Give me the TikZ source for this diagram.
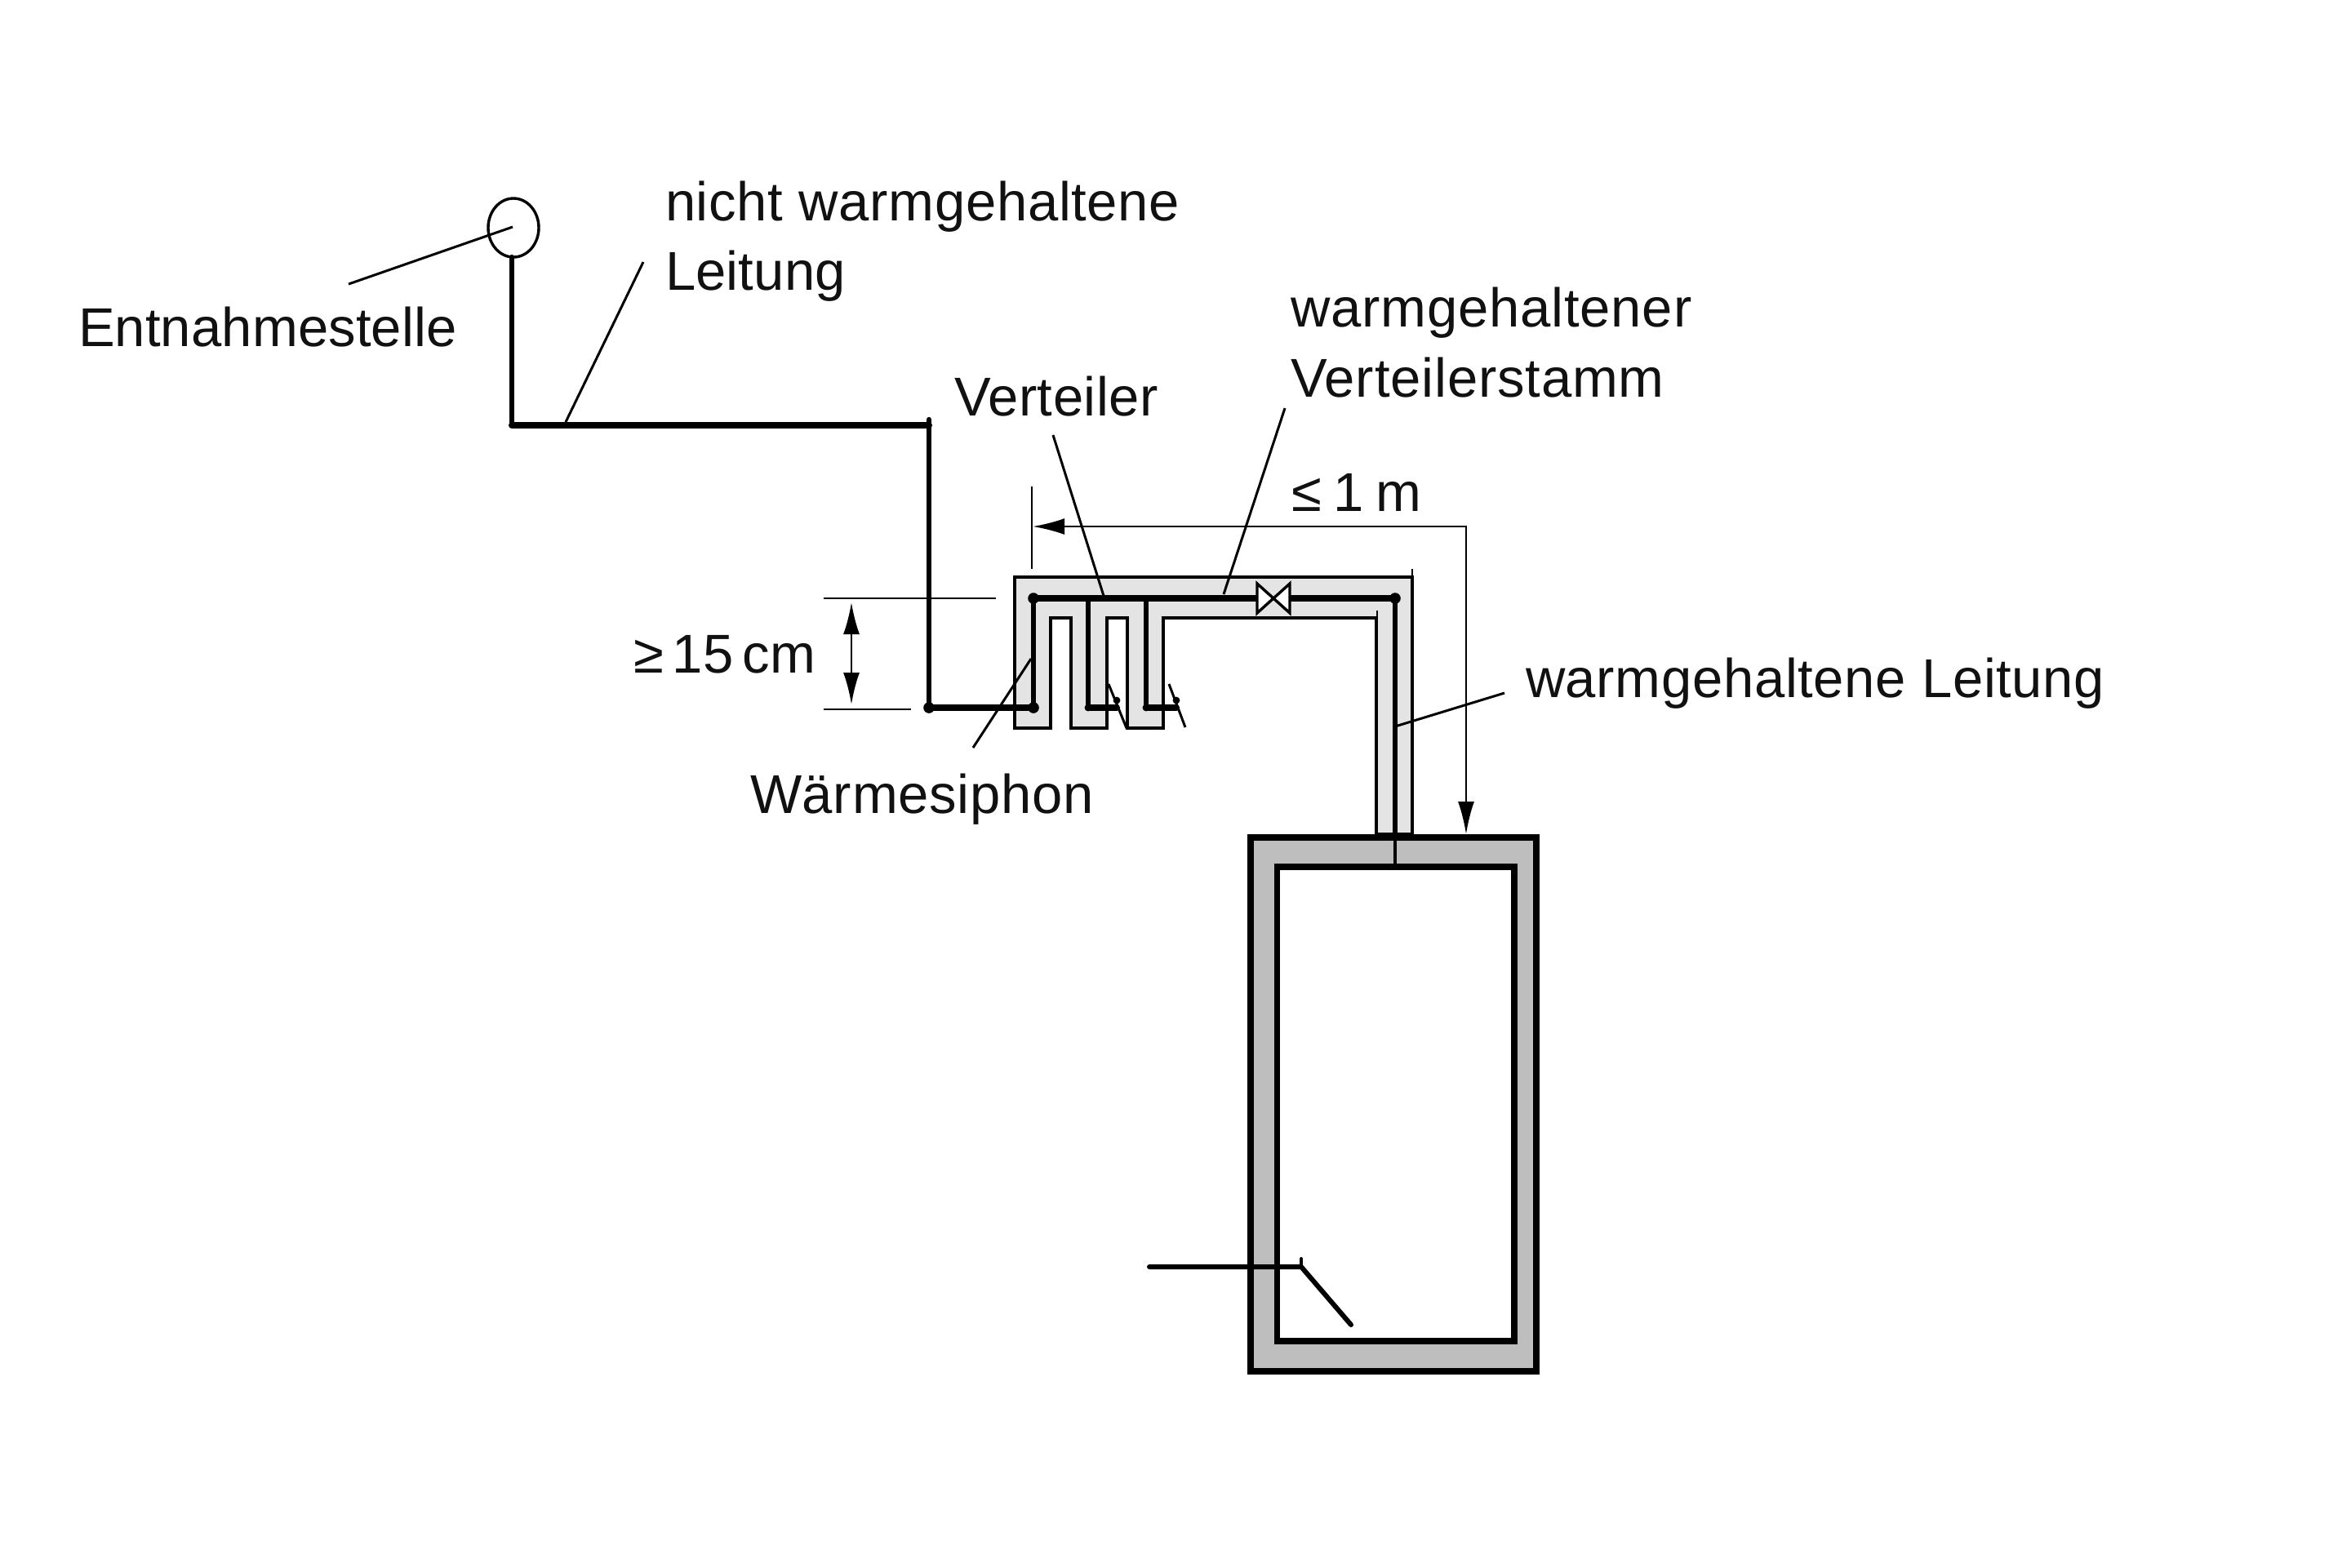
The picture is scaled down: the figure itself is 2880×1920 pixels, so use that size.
\documentclass[tikz,border=0pt]{standalone}
\usepackage{fontspec}
\setmainfont{Liberation Sans}
\usetikzlibrary{arrows.meta}
\definecolor{insul}{HTML}{E4E4E4}
\definecolor{tankgray}{HTML}{BEBEBE}
\definecolor{ink}{HTML}{111111}
\newcommand{\tracked}[2]{{\addfontfeature{LetterSpace=#1}#2}}
\tikzset{
  label text/.style={anchor=base west,inner sep=0pt,outer sep=0pt,font=\fontsize{16.75pt}{20pt}\selectfont,text=ink},
  pipeH/.style={line width=2pt,line cap=round},
  pipeV/.style={line width=1.6pt,line cap=round},
  leader/.style={line width=0.75pt},
  dimline/.style={line width=0.65pt},
  insulation/.style={fill=insul,draw=black,line width=0.85pt,line join=miter},
  tankwall/.style={line width=1.9pt,line join=miter},
  joint/.style={circle,fill=black,inner sep=0pt,minimum size=3.4pt},
  smalljoint/.style={circle,fill=black,inner sep=0pt,minimum size=2.2pt},
  dimtips/.style={{Latex[length=9.75pt,width=5pt]}-{Latex[length=10pt,width=5pt]}},
  smalltips/.style={{Latex[length=9.75pt,width=5pt]}-{Latex[length=9.75pt,width=5pt]}}
}
\begin{document}
\begin{tikzpicture}[x=0.25pt,y=-0.25pt]
\useasboundingbox (0,0) rectangle (2880,1920);
% coordinates
\coordinate (cornerA) at (627,521);
\coordinate (cornerB) at (1138,521);
\coordinate (cornerC) at (1138,867);
\coordinate (sipA) at (1266,867);
\coordinate (headL) at (1266,733);
\coordinate (headR) at (1709,733);
\coordinate (valveL) at (1540,733);
\coordinate (valveR) at (1580,733);
\coordinate (sipB) at (1333,867);
\coordinate (sipC) at (1404,867);
\coordinate (stubB) at (1368,867);
\coordinate (stubC) at (1441,867);
\coordinate (headB) at (1333,733);
\coordinate (headC) at (1404,733);
\coordinate (tankIn) at (1709,1062);
% tank
\draw[tankwall,fill=tankgray] (1532,1026) rectangle (1882,1680);
\draw[tankwall,fill=white] (1564.5,1062) rectangle (1855,1643);
% insulation
\draw[insulation] (1243,892) -- (1243,707) -- (1730,707) -- (1730,1022) -- (1686,1022) -- (1686,757) -- (1425,757) -- (1425,892) -- (1381,892) -- (1381,757) -- (1356,757) -- (1356,892) -- (1312,892) -- (1312,757) -- (1287,757) -- (1287,892) -- cycle;
\draw[line width=0.4pt] (1730,707) -- (1730,697);
\draw[line width=0.4pt] (1687,757) -- (1687,748);
% cold pipe
\draw[pipeV] (cornerA) -- (627,315);
\draw[pipeH] (cornerA) -- (cornerB);
\draw[pipeV] (1138,514) -- (cornerC);
\draw[pipeH] (cornerC) -- (sipA);
% entnahmestelle
\draw[line width=0.85pt] (629,279) circle [x radius=31,y radius=36];
\coordinate (tap) at (628,278);
\coordinate (tapEnd) at (427,348);
\draw[leader] (tap) -- (tapEnd);
% header and risers
\draw[pipeV] (headL) -- (sipA);
\draw[pipeV] (headB) -- (sipB);
\draw[pipeV] (headC) -- (sipC);
\draw[pipeV] (headR) -- (1709,1026);
\draw[line width=1.1pt] (1709,1026) -- (tankIn);
\draw[pipeH] (headL) -- (valveL);
\draw[pipeH] (valveR) -- (headR);
\draw[pipeH] (sipB) -- (stubB);
\draw[pipeH] (sipC) -- (stubC);
\node[joint] (j1) at (headL) {};
\node[joint] (j2) at (headR) {};
\node[joint] (j3) at (cornerC) {};
\node[joint] (j4) at (sipA) {};
\node[smalljoint] (j5) at (sipB) {};
\node[smalljoint] (j6) at (sipC) {};
\node[smalljoint] (j7) at (1368,858) {};
\node[smalljoint] (j8) at (1441,858) {};
\draw[leader] (1358,838) -- (1380,892);
\draw[leader] (1432,838) -- (1452,891);
% valve
\draw[line width=0.85pt,fill=white,line join=miter] (1540,715) -- (1540,751) -- (1580,715) -- (1580,751) -- cycle;
% dimension
\coordinate (dimTop) at (1264,596);
\coordinate (dimBot) at (1264,697);
\coordinate (dimL) at (1265,645);
\coordinate (dimC) at (1796,645);
\coordinate (dimT) at (1796,1022);
\draw[dimline] (dimTop) -- (dimBot);
\draw[dimline,dimtips] (dimL) -- (dimC) -- (dimT);
\coordinate (extA1) at (1009,733);
\coordinate (extA2) at (1220,733);
\coordinate (extB1) at (1009,869);
\coordinate (extB2) at (1116,869);
\draw[dimline] (extA1) -- (extA2);
\draw[dimline] (extB1) -- (extB2);
\coordinate (hA) at (1043,738);
\coordinate (hB) at (1043,863);
\draw[dimline,smalltips] (hA) -- (hB);
% heater
\draw[line width=1.5pt,line cap=round,line join=round] (1408,1552) -- (1594,1552) -- (1655,1623);
\draw[line width=1pt,line cap=round] (1594,1552) -- (1594,1542);
% leaders
\coordinate (l1a) at (693,517); \coordinate (l1b) at (788,321);
\coordinate (l2a) at (1352,730); \coordinate (l2b) at (1290,533);
\coordinate (l3a) at (1499,728); \coordinate (l3b) at (1574,500);
\coordinate (l4a) at (1263,807); \coordinate (l4b) at (1192,916);
\coordinate (l5a) at (1709,890); \coordinate (l5b) at (1843,849);
\draw[leader] (l1a) -- (l1b);
\draw[leader] (l2a) -- (l2b);
\draw[leader] (l3a) -- (l3b);
\draw[leader] (l4a) -- (l4b);
\draw[leader] (l5a) -- (l5b);
% labels
\node[label text] (t1) at (815,270) {\tracked{1.05}{nicht warmgehaltene}};
\node[label text] (t2) at (815,355) {\tracked{0.3}{Leitung}};
\node[label text] (t3) at (96,424) {\tracked{0.2}{Entnahmestelle}};
\node[label text] (t4) at (1169,509) {\tracked{0.7}{Verteiler}};
\node[label text] (t5) at (1581,400) {\tracked{1.27}{warmgehaltener}};
\node[label text] (t6) at (1581,486) {\tracked{1.27}{Verteilerstamm}};
\node[label text] (t7) at (1582,626) {≤\hspace{3.7pt}1\hspace{3.7pt}m};
\node[label text] (t8) at (776,824) {≥\hspace{2.8pt}15\hspace{2.8pt}cm};
\node[label text] (t9) at (1869,854) {\tracked{1}{warmgehaltene Leitung}};
\node[label text] (t10) at (919,996) {\tracked{1.1}{Wärmesiphon}};
\end{tikzpicture}
\end{document}
